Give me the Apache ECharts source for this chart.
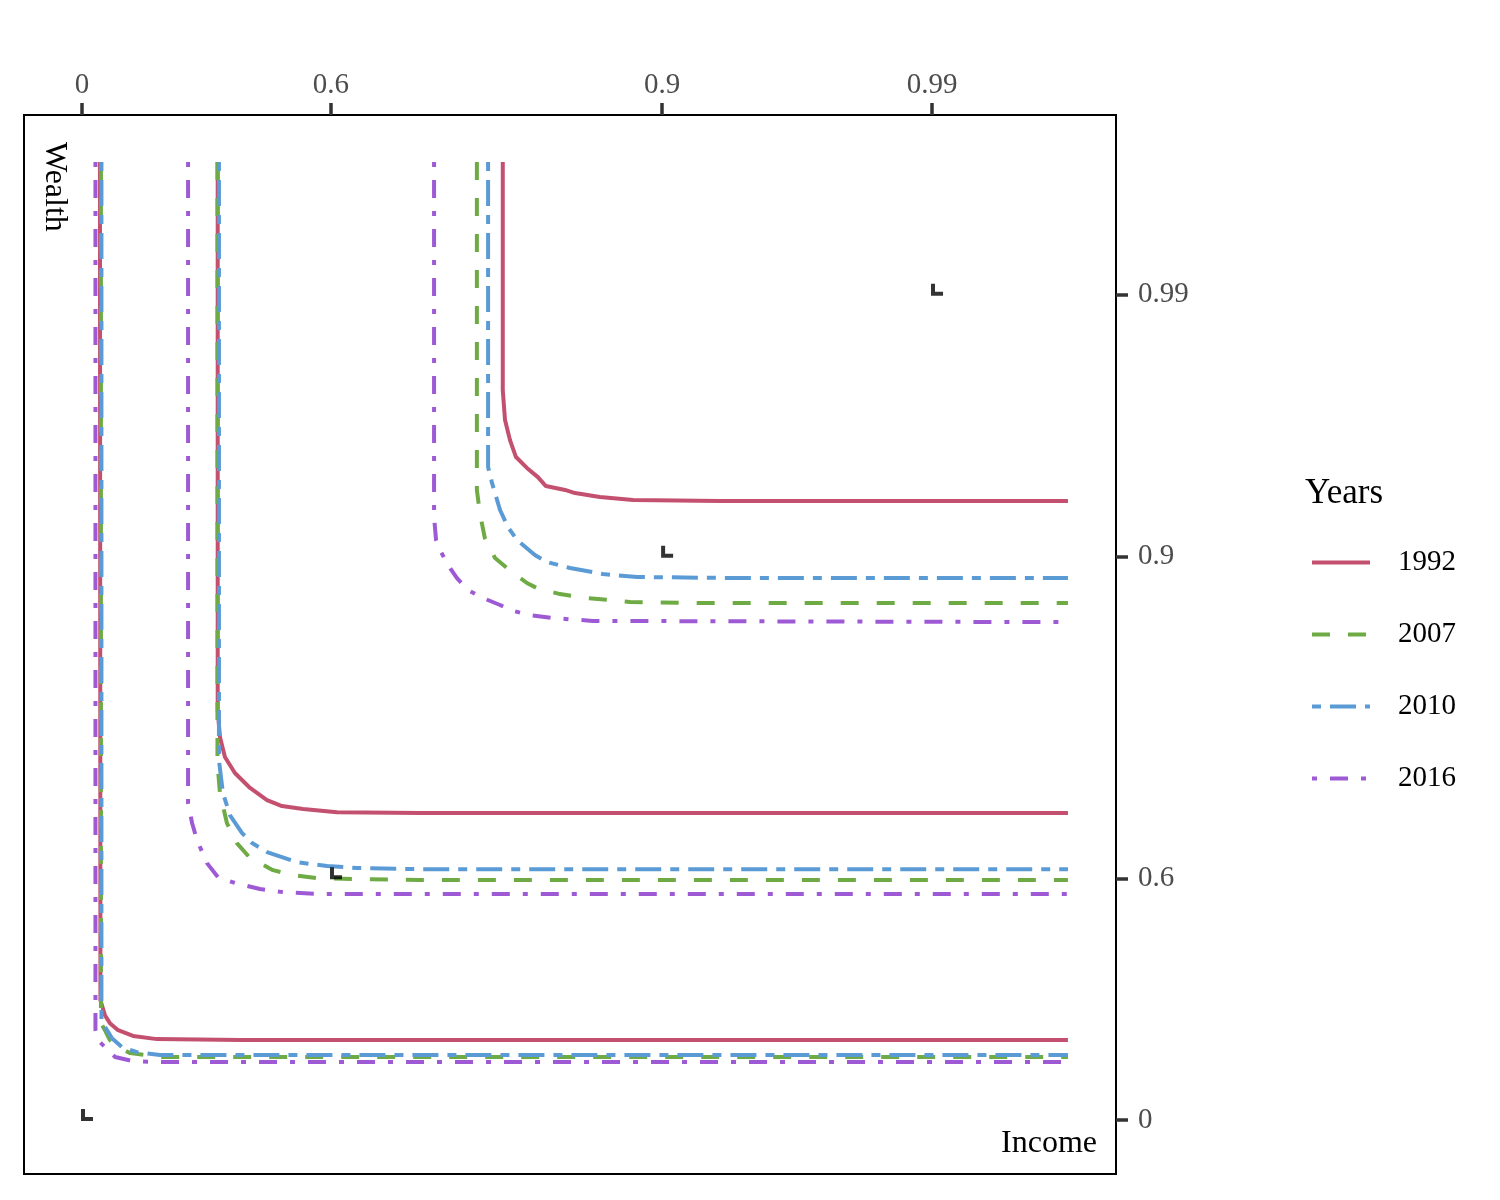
<!DOCTYPE html>
<html>
<head>
<meta charset="utf-8">
<title>Income / Wealth contours</title>
<script src="https://cdn.jsdelivr.net/npm/echarts@6/dist/echarts.min.js"></script>
<style>
html, body { margin: 0; padding: 0; background: #fff; }
#chart { width: 1500px; height: 1200px; }
</style>
</head>
<body>
<div id="chart"></div>
<script>
// 刻度位置（变换后的分位数坐标）与标签
const tickPos = [0, 100, 233, 341.4];
const tickLabels = ['0', '0.6', '0.9', '0.99'];

// 年份
const years = ['1992', '2007', '2010', '2016'];

// 各年份的三条等高线，点为 [income, wealth]
const contours1992 = [
    [[7.2, 396.4], [7.4, 49.6], [9.2, 43.4], [11.2, 40.1], [14.5, 37.2], [20.5, 34.8], [30.1, 33.5], [63.5, 33.1], [396, 33.1]],
    [[54.5, 396.4], [54.5, 169.6], [55.4, 158.5], [57.4, 150.2], [61.4, 143.6], [67.5, 137.4], [74.3, 132.4], [80.3, 129.9], [88.8, 128.7], [102.4, 127.4], [135.7, 127.0], [396, 127.0]],
    [[169.0, 396.4], [169.0, 302.0], [169.9, 289.6], [171.9, 281.3], [174.3, 274.3], [178.7, 269.8], [183.1, 266.0], [186.3, 262.3], [194.0, 260.7], [198.0, 259.4], [208.0, 257.8], [221.3, 256.5], [256.2, 256.1], [396, 256.1]]
];
const contours2007 = [
    [[7.6, 396.4], [7.6, 40.1], [9.2, 37.2], [11.2, 33.1], [14.5, 30.2], [19.3, 27.7], [31.3, 26.1], [396, 26.1]],
    [[54.4, 396.4], [54.4, 147.7], [55.4, 135.3], [58.2, 122.9], [62.2, 114.6], [67.5, 108.4], [76.7, 103.4], [84.7, 101.4], [94.4, 100.1], [108.8, 99.7], [135.7, 99.3], [396, 99.3]],
    [[158.6, 396.4], [158.6, 260.7], [159.8, 251.1], [161.8, 240.8], [165.9, 232.5], [170.7, 228.4], [178.7, 222.2], [182.7, 220.1], [192.0, 217.6], [202.8, 216.0], [220.1, 214.3], [252.2, 213.9], [396, 213.9]]
];
const contours2010 = [
    [[7.8, 396.4], [7.8, 41.4], [10.0, 37.2], [12.0, 33.9], [16.1, 30.2], [22.1, 28.1], [31.3, 26.9], [396, 26.9]],
    [[55.0, 396.4], [55.0, 148.9], [56.6, 135.3], [59.4, 126.2], [64.3, 118.7], [68.3, 114.6], [74.3, 110.9], [86.3, 106.7], [98.4, 105.1], [110.4, 104.3], [135.7, 103.8], [396, 103.8]],
    [[163.1, 396.4], [163.1, 270.2], [164.7, 263.5], [167.9, 252.4], [171.1, 245.3], [174.7, 240.0], [181.9, 233.8], [186.7, 230.9], [196.0, 228.4], [209.2, 225.9], [222.9, 224.7], [256.2, 224.3], [396, 224.3]]
];
const contours2016 = [
    [[5.4, 396.4], [5.4, 37.2], [6.4, 33.1], [10.0, 29.4], [13.3, 26.1], [20.5, 24.4], [31.3, 24.0], [396, 24.0]],
    [[42.6, 396.4], [42.6, 131.2], [44.2, 122.9], [46.2, 115.8], [50.2, 106.3], [54.6, 100.5], [61.4, 98.1], [71.5, 95.6], [80.7, 94.3], [95.6, 93.5], [135.7, 93.5], [396, 93.5]],
    [[141.4, 396.4], [141.4, 249.5], [142.2, 240.0], [143.8, 235.8], [147.0, 229.6], [150.6, 224.2], [155.0, 219.3], [161.0, 216.0], [167.9, 213.1], [171.9, 211.0], [179.9, 208.9], [189.2, 207.7], [205.2, 206.5], [396, 206.0]]
];

const allContours = [contours1992, contours2007, contours2010, contours2016];

// 样式
const colors = ['#c4506f', '#6fab45', '#5b9bd5', '#9e5ad4'];
const dashes = ['solid', [18, 18], [9, 9, 26, 9], [5, 13, 18, 13]];
const FONT = '"Liberation Serif", "Times New Roman", serif';

const chart = echarts.init(document.getElementById('chart'));

// 每条等高线一个系列，同名系列共用图例
const lineSeries = [];
allContours.forEach((contours, i) => {
    contours.forEach(points => {
        lineSeries.push({
            type: 'line',
            name: years[i],
            data: points,
            symbol: 'none',
            silent: true,
            lineStyle: {
                color: colors[i],
                width: 4,
                type: dashes[i],
                cap: 'butt'
            },
            itemStyle: { color: colors[i] }
        });
    });
});

// 分位数位置上的小角标
const cornerSeries = {
    type: 'scatter',
    name: 'corner',
    data: tickPos.map(v => [v, v]),
    symbol: 'path://M0,0 H4 V8 H12 V12 H0 Z',
    symbolSize: [12, 12],
    symbolOffset: [5, -5],
    itemStyle: { color: '#000' },
    silent: true,
    z: 5
};

function tickFormatter(v) {
    const idx = tickPos.indexOf(v);
    return idx >= 0 ? tickLabels[idx] : '';
}

function makeAxis(pos, min, max, margin) {
    return {
        type: 'value',
        position: pos,
        min: min,
        max: max,
        splitLine: { show: false },
        axisLine: { show: true, onZero: false, lineStyle: { color: '#000', width: 2 } },
        axisTick: {
            show: true,
            length: 12,
            customValues: tickPos,
            lineStyle: { color: '#333', width: 3.5 }
        },
        axisLabel: {
            customValues: tickPos,
            formatter: tickFormatter,
            margin: margin,
            fontFamily: FONT,
            fontSize: 29,
            color: '#4d4d4d'
        }
    };
}

const option = {
    animation: false,
    backgroundColor: '#fff',
    grid: {
        left: 24,
        right: 384,
        top: 115,
        bottom: 26,
        show: true,
        borderColor: '#000',
        borderWidth: 2
    },
    xAxis: makeAxis('top', -23.3, 415.3, 15),
    yAxis: makeAxis('right', -22.3, 415.8, 22),
    legend: {
        data: years,
        orient: 'vertical',
        left: 1310,
        top: 548,
        padding: 0,
        itemWidth: 58,
        itemHeight: 29,
        itemGap: 43,
        selectedMode: false,
        lineStyle: { width: 4 },
        itemStyle: { color: 'rgba(0,0,0,0)', borderWidth: 0, opacity: 0 },
        textStyle: {
            fontFamily: FONT,
            fontSize: 29,
            color: '#000',
            padding: [0, 0, 0, 23]
        }
    },
    graphic: [
        {
            type: 'text',
            x: 1305,
            y: 494,
            style: { text: 'Years', font: '35px ' + FONT, fill: '#000', textAlign: 'left', textVerticalAlign: 'middle' }
        },
        {
            type: 'text',
            x: 1097,
            y: 1144,
            style: { text: 'Income', font: '32px ' + FONT, fill: '#000', textAlign: 'right', textVerticalAlign: 'middle' }
        },
        {
            type: 'text',
            x: 54,
            y: 142,
            rotation: -Math.PI / 2,
            style: { text: 'Wealth', font: '32px ' + FONT, fill: '#000', textAlign: 'left', textVerticalAlign: 'middle' }
        }
    ],
    series: lineSeries.concat([cornerSeries])
};

chart.setOption(option);
</script>
</body>
</html>
